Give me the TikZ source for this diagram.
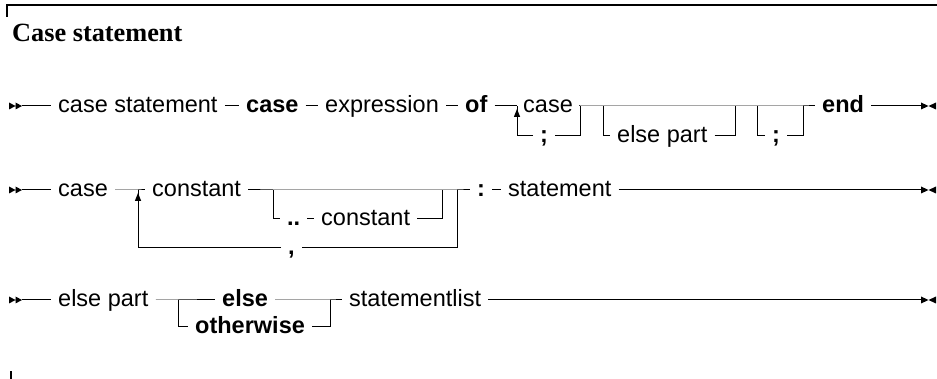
\documentclass[tikz,border=0pt]{standalone}
\usepackage{fontspec}
\setmainfont{Liberation Sans}
\newfontfamily\titlefont{Liberation Serif}
\begin{document}
\begin{tikzpicture}[x=1pt,y=-1pt,
  t/.style={inner xsep=7pt, inner ysep=0pt, text height=12.2pt, text depth=0pt, anchor=west, font=\fontsize{23.5}{28}\selectfont},
  kw/.style={t, font=\fontsize{23.5}{28}\selectfont\bfseries},
  ln/.style={line width=1pt},
  startmark/.pic={\fill (-13,-3.5) -- (-6.5,0) -- (-13,3.5) -- cycle (-6.5,-3.5) -- (0,0) -- (-6.5,3.5) -- cycle;},
  endmark/.pic={\fill (0,-3.5) -- (7.5,0) -- (0,3.5) -- cycle (15,-3.5) -- (7.5,0) -- (15,3.5) -- cycle;},
  uparrow/.pic={\fill (0,3) -- (-3.2,11) -- (3.2,11) -- cycle;}
]
\useasboundingbox (0,0) rectangle (937,379);

% title and frame marks
\node[anchor=base west, inner sep=0pt, font=\titlefont\fontsize{26.3}{30}\selectfont\bfseries] (title) at (12,42) {Case statement};
\draw[line width=1.2pt] (7,17) -- (7,5) -- (937,5);
\draw[line width=1.2pt] (11,371) -- (11,379);

% ---------- Row 1 ----------
\coordinate (r1s) at (22,106);
\node[t] (a1) at (51,106) {case statement};
\node[kw] (a2) at (239,106) {case};
\node[t] (a3) at (318,106) {expression};
\node[kw] (a4) at (458,106) {of};
\coordinate (j1) at (517,106);
\coordinate (j1b) at (517,136);
\node[t, inner xsep=6pt] (a5) at (517,106) {case};
\coordinate (j2) at (580,106);
\coordinate (j2b) at (580,136);
\node[kw] (a6) at (533,136) {;};
\coordinate (j3) at (603,106);
\coordinate (j3b) at (603,136);
\node[t] (a7) at (610,136) {else part};
\coordinate (j4) at (735,106);
\coordinate (j4b) at (735,136);
\coordinate (j5) at (757,106);
\coordinate (j5b) at (757,136);
\node[kw] (a8) at (765,136) {;};
\coordinate (j6) at (803,106);
\coordinate (j6b) at (803,136);
\node[kw] (a9) at (815,106) {end};
\coordinate (r1e) at (921,106);

\pic at (r1s) {startmark};
\draw[ln] (r1s) -- (a1.west);
\draw[ln] (a1.east) -- (a2.west);
\draw[ln] (a2.east) -- (a3.west);
\draw[ln] (a3.east) -- (a4.west);
\draw[ln] (a4.east) -- (j1);
\draw[ln] (a5.east) -- (j2) -- (j6) -- (a9.west);
\draw[ln] (j2) -- (j2b) -- (a6.east);
\draw[ln] (a6.west) -- (j1b) -- (j1);
\pic at (j1) {uparrow};
\draw[ln] (j3) -- (j3b) -- (a7.west);
\draw[ln] (a7.east) -- (j4b) -- (j4);
\draw[ln] (j5) -- (j5b) -- (a8.west);
\draw[ln] (a8.east) -- (j6b) -- (j6);
\draw[ln] (a9.east) -- (r1e);
\pic at (r1e) {endmark};

% ---------- Row 2 ----------
\coordinate (r2s) at (22,190);
\node[t] (b1) at (51,190) {case};
\coordinate (k1) at (138,190);
\coordinate (k1b) at (138,248);
\node[t] (b2) at (145,190) {constant};
\coordinate (k2) at (273,190);
\coordinate (k2b) at (273,219);
\node[kw] (b3) at (280,219) {..};
\node[t] (b4) at (314,219) {constant};
\coordinate (k3) at (442,190);
\coordinate (k3b) at (442,219);
\coordinate (k4) at (457,190);
\coordinate (k4b) at (457,248);
\node[kw] (b5) at (281,248) {,};
\node[kw] (b6) at (470,190) {:};
\node[t] (b7) at (501,190) {statement};
\coordinate (r2e) at (921,190);

\pic at (r2s) {startmark};
\draw[ln] (r2s) -- (b1.west);
\draw[ln] (b1.east) -- (k1) -- (b2.west);
\draw[ln] (b2.east) -- (k2) -- (k3) -- (k4) -- (b6.west);
\draw[ln] (k2) -- (k2b) -- (b3.west);
\draw[ln] (b3.east) -- (b4.west);
\draw[ln] (b4.east) -- (k3b) -- (k3);
\draw[ln] (k4) -- (k4b) -- (b5.east);
\draw[ln] (b5.west) -- (k1b) -- (k1);
\pic at (k1) {uparrow};
\draw[ln] (b6.east) -- (b7.west);
\draw[ln] (b7.east) -- (r2e);
\pic at (r2e) {endmark};

% ---------- Row 3 ----------
\coordinate (r3s) at (22,300);
\node[t] (c1) at (51,300) {else part};
\coordinate (m1) at (178,300);
\coordinate (m1b) at (178,327);
\node[kw] (c2) at (215,300) {else};
\node[kw] (c3) at (188,327) {otherwise};
\coordinate (m2) at (330,300);
\coordinate (m2b) at (330,327);
\node[t] (c4) at (342,300) {statementlist};
\coordinate (r3e) at (921,300);

\pic at (r3s) {startmark};
\draw[ln] (r3s) -- (c1.west);
\draw[ln] (c1.east) -- (m1) -- (c2.west);
\draw[ln] (m1) -- (m1b) -- (c3.west);
\draw[ln] (c2.east) -- (m2) -- (c4.west);
\draw[ln] (c3.east) -- (m2b) -- (m2);
\draw[ln] (c4.east) -- (r3e);
\pic at (r3e) {endmark};
\end{tikzpicture}
\end{document}
